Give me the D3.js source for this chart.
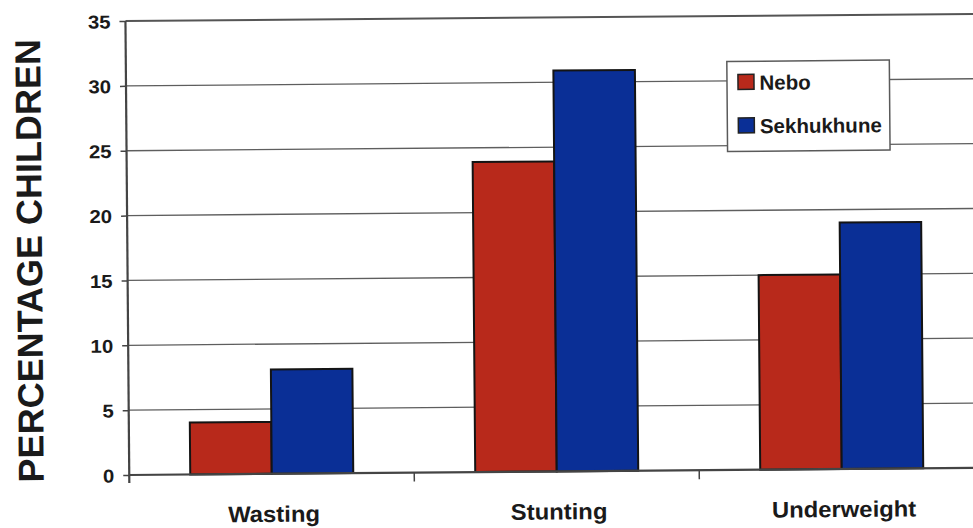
<!DOCTYPE html>
<html>
<head>
<meta charset="utf-8">
<script src="https://cdn.jsdelivr.net/npm/d3@7"></script>
<style>
  html, body { margin: 0; padding: 0; background: #ffffff; }
  svg { display: block; }
  text { font-family: "Liberation Sans", Arial, sans-serif; fill: #1a1a1a; }
</style>
</head>
<body>
<svg id="chart" width="973" height="528"></svg>
<script>
// Malnutrition indicators by district
const categories = ["Wasting", "Stunting", "Underweight"];
const seriesNames = ["Nebo", "Sekhukhune"];
const nebo = [4.0, 23.9, 15.0];
const sekhukhune = [8.05, 30.9, 19.0];
const yTicks = [0, 5, 10, 15, 20, 25, 30, 35];
const yTitle = "PERCENTAGE CHILDREN";

const seriesValues = [nebo, sekhukhune];
const colors = ["#b8291b", "#0a2f96"];

const W = 973, H = 528;
const plot = { left: 127.5, top: 18, bottom: 472, right: 982.5 };

const svg = d3.select("#chart");
// the whole figure sits very slightly tilted
const g = svg.append("g").attr("transform", `rotate(-0.48 ${W / 2} ${H / 2})`);

const y = d3.scaleLinear().domain([0, 35]).range([plot.bottom, plot.top]);
const x0 = d3.scaleBand().domain(categories).range([plot.left, plot.right]).padding(0);
const bw = x0.bandwidth();
const x1 = d3.scaleBand().domain(seriesNames).range([bw * 0.214, bw * 0.786]).padding(0);

// horizontal gridlines
g.append("g")
  .selectAll("line")
  .data(yTicks.filter(d => d > 0))
  .join("line")
  .attr("x1", plot.left).attr("x2", plot.right)
  .attr("y1", d => y(d)).attr("y2", d => y(d))
  .attr("stroke", d => d === 35 ? "#555" : "#5e5e5e")
  .attr("stroke-width", d => d === 35 ? 2 : 1.3);

// bars
const groups = g.append("g")
  .selectAll("g")
  .data(categories)
  .join("g")
  .attr("transform", d => `translate(${x0(d)},0)`);

groups.selectAll("rect")
  .data((c, i) => seriesNames.map((s, j) => ({ s, j, v: seriesValues[j][i] })))
  .join("rect")
  .attr("x", d => x1(d.s))
  .attr("width", x1.bandwidth())
  .attr("y", d => y(d.v))
  .attr("height", d => y(0) - y(d.v))
  .attr("fill", d => colors[d.j])
  .attr("stroke", "#141414")
  .attr("stroke-width", 2);

// y axis
const yAxis = d3.axisLeft(y).tickValues(yTicks).tickSize(6).tickPadding(8).tickFormat(d3.format("d"));
const ya = g.append("g").attr("transform", `translate(${plot.left},0)`).call(yAxis);
ya.select(".domain").remove();
ya.selectAll(".tick line").attr("stroke", "#444").attr("stroke-width", 1.5);
ya.selectAll(".tick text").remove();
ya.selectAll(".tick").append("text")
  .attr("transform", "translate(-15,0) scale(1.1,1)")
  .attr("text-anchor", "end")
  .attr("dy", "0.36em")
  .attr("font-size", 18.5)
  .attr("font-weight", "bold")
  .text(d => d);

g.append("line")
  .attr("x1", plot.left).attr("x2", plot.left)
  .attr("y1", plot.top).attr("y2", plot.bottom + 8)
  .attr("stroke", "#444").attr("stroke-width", 2.2);

// x axis baseline with category boundary ticks
g.append("line")
  .attr("x1", plot.left).attr("x2", plot.right)
  .attr("y1", plot.bottom).attr("y2", plot.bottom)
  .attr("stroke", "#444").attr("stroke-width", 2.2);

g.append("g")
  .selectAll("line")
  .data(categories.slice(1))
  .join("line")
  .attr("x1", d => x0(d)).attr("x2", d => x0(d))
  .attr("y1", plot.bottom).attr("y2", plot.bottom + 9)
  .attr("stroke", "#444").attr("stroke-width", 1.5);

// category labels
g.append("g")
  .selectAll("text")
  .data(categories)
  .join("text")
  .attr("transform", d => `translate(${x0(d) + bw / 2 + 2},520) scale(1.06,1)`)
  .attr("text-anchor", "middle")
  .attr("font-size", 22.5)
  .attr("font-weight", "bold")
  .attr("fill", "#222")
  .text(d => d);

// y axis title
g.append("text")
  .attr("transform", `translate(42,${(plot.top + plot.bottom) / 2 + 12}) rotate(-90)`)
  .attr("text-anchor", "middle")
  .attr("font-size", 36)
  .attr("font-weight", "bold")
  .text(yTitle);

// legend
const lg = g.append("g").attr("transform", "translate(728.5,63.5)");
lg.append("rect")
  .attr("width", 162.5).attr("height", 90)
  .attr("fill", "#ffffff")
  .attr("stroke", "#5a5a5a").attr("stroke-width", 1.5);

const items = lg.selectAll("g.item")
  .data(seriesNames)
  .join("g")
  .attr("class", "item")
  .attr("transform", (d, i) => `translate(11,${13 + i * 43.5})`);

items.append("rect")
  .attr("width", 16).attr("height", 15)
  .attr("fill", (d, i) => colors[i])
  .attr("stroke", "#222").attr("stroke-width", 1.5);

items.append("text")
  .attr("x", 21.5).attr("y", 15.5)
  .attr("font-size", 20.5)
  .attr("font-weight", "bold")
  .attr("fill", "#222")
  .text(d => d);
</script>
</body>
</html>
